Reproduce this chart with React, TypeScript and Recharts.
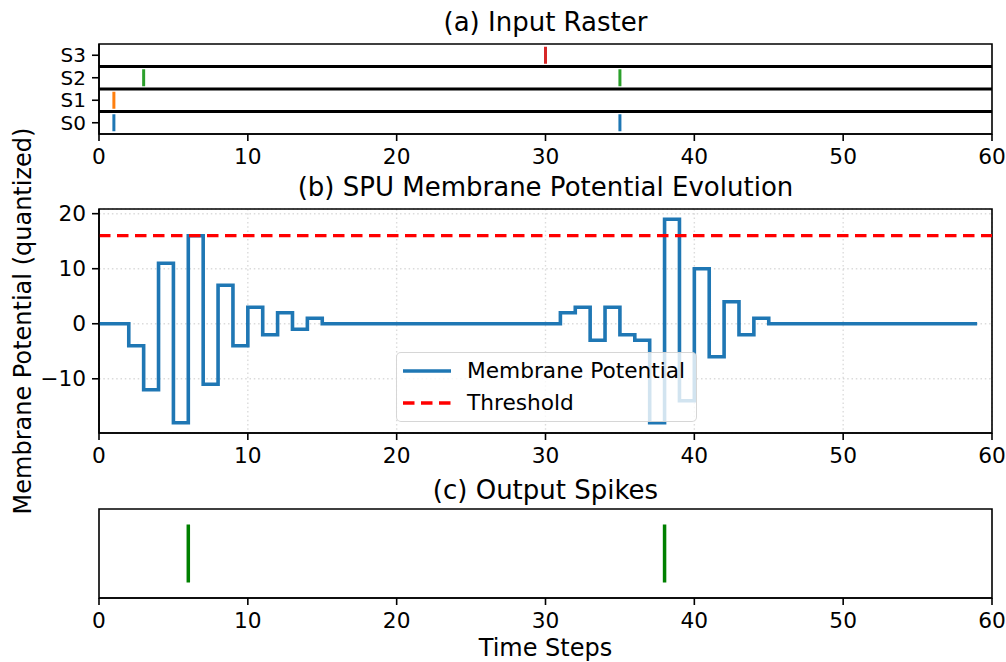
import React from "react";
import {
  CartesianGrid,
  Legend,
  Line,
  LineChart,
  ReferenceArea,
  ReferenceLine,
  Scatter,
  ScatterChart,
  XAxis,
  YAxis,
} from "recharts";

const FONT = "DejaVu Sans";

// time axis, shared by all three panels
const TIME_DOMAIN = [0, 60];
const TIME_TICKS = [0, 10, 20, 30, 40, 50, 60];

// (a) input raster
const CHANNELS = ["S0", "S1", "S2", "S3"];
const CHANNEL_COLORS = ["#1f77b4", "#ff7f0e", "#2ca02c", "#d62728"];
const S0_SPIKES = [1, 35];
const S1_SPIKES = [1];
const S2_SPIKES = [3, 35];
const S3_SPIKES = [30];
const INPUT_SPIKES = [S0_SPIKES, S1_SPIKES, S2_SPIKES, S3_SPIKES];

// (b) membrane potential, one value per time step 0..59
const MEMBRANE = [
  0, 0, -4, -12, 11, -18, 16, -11, 7, -4,
  3, -2, 2, -1, 1, 0, 0, 0, 0, 0,
  0, 0, 0, 0, 0, 0, 0, 0, 0, 0,
  0, 2, 3, -3, 3, -2, -3, -18, 19, -14,
  10, -6, 4, -2, 1, 0, 0, 0, 0, 0,
  0, 0, 0, 0, 0, 0, 0, 0, 0, 0,
];
const THRESHOLD = 16;
const MP_DOMAIN = [-19.85, 20.85];
const MP_TICKS = [-10, 0, 10, 20];

// (c) output spikes
const OUTPUT_SPIKES = [6, 38];
const OUT_DOMAIN = [0, 1];

const LEGEND_ITEMS = [
  { label: "Membrane Potential", color: "#1f77b4", dash: undefined },
  { label: "Threshold", color: "#ff0000", dash: "11.5 6.5" },
];

const fmt = (v: number) => (v < 0 ? `\u2212${Math.abs(v)}` : `${v}`);

const tickStyle = { fill: "#000", fontSize: 21.7, fontFamily: FONT };
const rowTickStyle = { fill: "#000", fontSize: 20, fontFamily: FONT };
const lineStyle = { stroke: "#000", strokeWidth: 1.6 };

const W = 1006;

function Title({ text, y }: { text: string; y: number }) {
  return (
    <div
      style={{
        position: "absolute",
        left: 99,
        width: 893,
        top: y - 16,
        lineHeight: "32px",
        textAlign: "center",
        fontSize: 26,
        fontFamily: FONT,
        color: "#000",
      }}
    >
      {text}
    </div>
  );
}

function MPLegend() {
  return (
    <div
      style={{
        boxSizing: "border-box",
        width: 301,
        height: 70,
        background: "rgba(255,255,255,0.8)",
        border: "1.5px solid rgba(204,204,204,0.8)",
        borderRadius: 5,
        paddingTop: 2,
        fontFamily: FONT,
        fontSize: 21.7,
        color: "#000",
      }}
    >
      {LEGEND_ITEMS.map((it) => (
        <div key={it.label} style={{ display: "flex", alignItems: "center", height: 31.7 }}>
          <svg width={70} height={8} style={{ flex: "none" }}>
            <line
              x1={6}
              x2={54}
              y1={4}
              y2={4}
              stroke={it.color}
              strokeWidth={3.4}
              strokeDasharray={it.dash}
            />
          </svg>
          <span style={{ whiteSpace: "nowrap" }}>{it.label}</span>
        </div>
      ))}
    </div>
  );
}

const rasterTick = (color: string) => (p: any) => (
  <line x1={p.cx} x2={p.cx} y1={p.cy - 8.5} y2={p.cy + 8.5} stroke={color} strokeWidth={3} />
);

const outputTick = (p: any) => (
  <line x1={p.cx} x2={p.cx} y1={p.cy - 29} y2={p.cy + 29} stroke="#008000" strokeWidth={3.5} />
);

const Frame = ({ y }: { y: number[] }) => (
  <ReferenceArea
    x1={TIME_DOMAIN[0]}
    x2={TIME_DOMAIN[1]}
    y1={y[0]}
    y2={y[1]}
    fill="none"
    fillOpacity={0}
    stroke="#000"
    strokeWidth={1.6}
    ifOverflow="visible"
  />
);

export default function App() {
  const membraneData = MEMBRANE.map((v, t) => ({ t, v }));
  const outputData = OUTPUT_SPIKES.map((t) => ({ t, y: 0.5 }));
  const rasterDomain = [-0.5, CHANNELS.length - 0.5];

  return (
    <div
      style={{
        position: "absolute",
        left: 0,
        top: 0,
        width: W,
        height: 662,
        background: "#fff",
        overflow: "hidden",
      }}
    >
      <Title text="(a) Input Raster" y={22} />
      <Title text="(b) SPU Membrane Potential Evolution" y={187} />
      <Title text="(c) Output Spikes" y={490} />

      <div
        style={{
          position: "absolute",
          left: 23,
          top: 321,
          transform: "translate(-50%, -50%) rotate(-90deg)",
          whiteSpace: "nowrap",
          fontFamily: FONT,
          fontSize: 24,
          color: "#000",
        }}
      >
        Membrane Potential (quantized)
      </div>

      {/* (a) */}
      <div style={{ position: "absolute", left: 0, top: 0 }}>
        <ScatterChart width={W} height={175} margin={{ top: 44, right: 14, bottom: 0, left: 0 }}>
          <XAxis
            type="number"
            dataKey="t"
            domain={TIME_DOMAIN}
            ticks={TIME_TICKS}
            interval={0}
            height={41}
            tickSize={7}
            tickMargin={8}
            tick={tickStyle}
            tickLine={lineStyle}
            axisLine={lineStyle}
            allowDataOverflow
          />
          <YAxis
            type="number"
            dataKey="row"
            domain={rasterDomain}
            ticks={CHANNELS.map((_, i) => i)}
            interval={0}
            tickFormatter={(i: number) => CHANNELS[i]}
            width={99}
            tickSize={7}
            tickMargin={6}
            tick={rowTickStyle}
            tickLine={lineStyle}
            axisLine={lineStyle}
            allowDataOverflow
          />
          {CHANNELS.slice(1).map((c, i) => (
            <ReferenceLine key={c} y={i + 0.5} stroke="#000" strokeWidth={2.8} />
          ))}
          {Frame({ y: rasterDomain })}
          {INPUT_SPIKES.map((spikes, i) => (
            <Scatter
              key={CHANNELS[i]}
              name={CHANNELS[i]}
              data={spikes.map((t) => ({ t, row: i }))}
              shape={rasterTick(CHANNEL_COLORS[i])}
              isAnimationActive={false}
            />
          ))}
        </ScatterChart>
      </div>

      {/* (b) */}
      <div style={{ position: "absolute", left: 0, top: 175 }}>
        <LineChart
          width={W}
          height={299}
          data={membraneData}
          margin={{ top: 34, right: 14, bottom: 0, left: 0 }}
        >
          <CartesianGrid
            stroke="#b0b0b0"
            strokeOpacity={0.45}
            strokeWidth={1.4}
            strokeDasharray="1.5 2.8"
          />
          <XAxis
            type="number"
            dataKey="t"
            domain={TIME_DOMAIN}
            ticks={TIME_TICKS}
            interval={0}
            height={41}
            tickSize={7}
            tickMargin={8}
            tick={tickStyle}
            tickLine={lineStyle}
            axisLine={lineStyle}
            allowDataOverflow
          />
          <YAxis
            type="number"
            domain={MP_DOMAIN}
            ticks={MP_TICKS}
            interval={0}
            tickFormatter={fmt}
            width={99}
            tickSize={7}
            tickMargin={6}
            tick={tickStyle}
            tickLine={lineStyle}
            axisLine={lineStyle}
            allowDataOverflow
          />
          {Frame({ y: MP_DOMAIN })}
          <Line
            type="stepAfter"
            dataKey="v"
            stroke="#1f77b4"
            strokeWidth={3.6}
            dot={false}
            isAnimationActive={false}
          />
          <ReferenceLine
            y={THRESHOLD}
            stroke="#ff0000"
            strokeWidth={3.3}
            strokeDasharray="11.5 6.5"
          />
          <Legend
            layout="horizontal"
            verticalAlign="middle"
            align="center"
            wrapperStyle={{ left: 396, top: 177, width: "auto", height: "auto" }}
            content={() => <MPLegend />}
          />
        </LineChart>
      </div>

      {/* (c) */}
      <div style={{ position: "absolute", left: 0, top: 475 }}>
        <ScatterChart width={W} height={187} margin={{ top: 34, right: 14, bottom: 0, left: 99 }}>
          <XAxis
            type="number"
            dataKey="t"
            domain={TIME_DOMAIN}
            ticks={TIME_TICKS}
            interval={0}
            height={64}
            tickSize={7}
            tickMargin={8}
            tick={tickStyle}
            tickLine={lineStyle}
            axisLine={lineStyle}
            allowDataOverflow
            label={{
              value: "Time Steps",
              position: "insideBottom",
              offset: 6,
              style: { fill: "#000", fontSize: 24, fontFamily: FONT },
            }}
          />
          <YAxis type="number" dataKey="y" domain={OUT_DOMAIN} hide />
          {Frame({ y: OUT_DOMAIN })}
          <Scatter data={outputData} shape={outputTick} isAnimationActive={false} />
        </ScatterChart>
      </div>
    </div>
  );
}
